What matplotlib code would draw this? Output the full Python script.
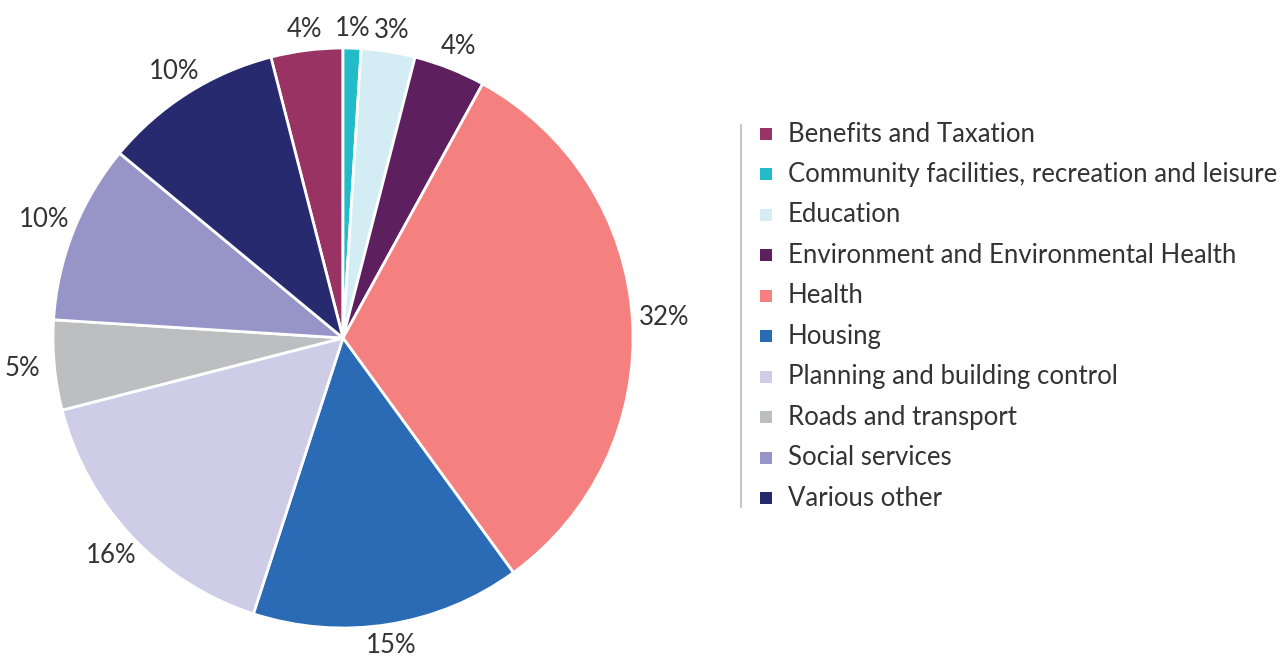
import matplotlib
matplotlib.use("Agg")
import numpy as np
import matplotlib.pyplot as plt
from matplotlib.patches import Rectangle
from matplotlib.lines import Line2D

categories = ["Benefits and Taxation",
              "Community facilities, recreation and leisure",
              "Education",
              "Environment and Environmental Health",
              "Health",
              "Housing",
              "Planning and building control",
              "Roads and transport",
              "Social services",
              "Various other"]
values = [4, 1, 3, 4, 32, 15, 16, 5, 10, 10]
labels = ["4%", "1%", "3%", "4%", "32%", "15%", "16%", "5%", "10%", "10%"]
colors = ["#983363", "#22BCC8", "#D4EDF4", "#5E1F5F", "#F48080",
          "#2B6BB5", "#CFCCE8", "#BDBEC0", "#9794C8", "#272A6F"]

plt.rcParams['font.family'] = ['Lato', 'DejaVu Sans']
W, H = 1285, 658
fig = plt.figure(figsize=(W/100, H/100), dpi=100)

cx, cy, r = 343, 338, 290
ax = fig.add_axes([(cx - r)/W, (H - cy - r)/H, 2*r/W, 2*r/H])
start = 90 + values[0] / sum(values) * 360
wedges, _ = ax.pie(values, colors=colors, startangle=start,
                   counterclock=False,
                   wedgeprops=dict(edgecolor="white", linewidth=2))
ax.set_xlim(-1, 1)
ax.set_ylim(-1, 1)
ax.set_aspect("equal")
ax.axis("off")

for w, lab in zip(wedges, labels):
    mid = np.deg2rad((w.theta1 + w.theta2) / 2)
    c, s = np.cos(mid), np.sin(mid)
    rr = 1.065 + 0.045 * abs(c)
    ax.text(rr * c, rr * s, lab, ha="center", va="center", fontsize=18.5,
            color="#333333", clip_on=False)

# legend
x_sq, x_txt, y0, dy, sq = 760, 788, 134, 40.45, 12
for i, (cat, col) in enumerate(zip(categories, colors)):
    y = y0 + i * dy
    fig.patches.append(Rectangle((x_sq/W, (H - y - sq/2)/H), sq/W, sq/H,
                                 transform=fig.transFigure, facecolor=col,
                                 edgecolor="none"))
    fig.text(x_txt/W, (H - y)/H, cat, fontsize=18.5, color="#333333",
             ha="left", va="center")
fig.lines.append(Line2D([741/W, 741/W], [(H - 125)/H, (H - 507)/H],
                        transform=fig.transFigure, color="#BBBBBB", lw=1.2))

fig.savefig("out.png", dpi=100, facecolor="white")
